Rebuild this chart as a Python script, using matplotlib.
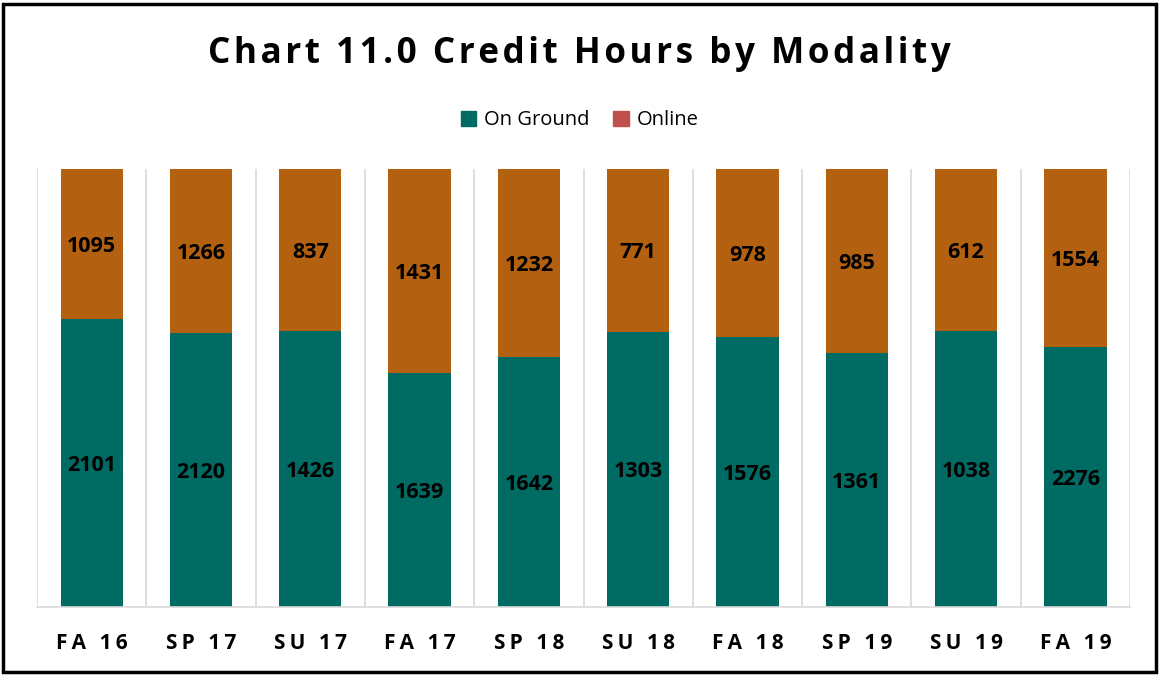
import numpy as np
import matplotlib.pyplot as plt
from matplotlib.patches import Patch, Rectangle

terms = ['FA 16', 'SP 17', 'SU 17', 'FA 17', 'SP 18', 'SU 18', 'FA 18', 'SP 19', 'SU 19', 'FA 19']
on_ground = [2101, 2120, 1426, 1639, 1642, 1303, 1576, 1361, 1038, 2276]
online = [1095, 1266, 837, 1431, 1232, 771, 978, 985, 612, 1554]

teal = '#006B63'
orange = '#B36110'
legend_red = '#C0504D'

def spaced(s, sep='\u2009'):
    return sep.join(s)

plt.rcParams['font.family'] = ['Open Sans', 'DejaVu Sans']

og = np.array(on_ground, dtype=float)
ol = np.array(online, dtype=float)
tot = og + ol
p_og = og / tot
p_ol = ol / tot
x = np.arange(len(terms))

fig = plt.figure(figsize=(11.59, 6.75), dpi=100)
ax = fig.add_axes([0.032, 0.1007, 0.943, 0.649])

ax.bar(x, p_og, width=0.57, color=teal, zorder=2)
ax.bar(x, p_ol, width=0.57, bottom=p_og, color=orange, zorder=2)

for i in range(len(terms)):
    ax.text(x[i], p_og[i] / 2, str(on_ground[i]), ha='center', va='center_baseline',
            fontsize=15.5, fontweight='bold', color='black', zorder=3)
    ax.text(x[i], p_og[i] + p_ol[i] / 2, str(online[i]), ha='center', va='center_baseline',
            fontsize=15.5, fontweight='bold', color='black', zorder=3)

# gridlines between categories
for b in np.arange(-0.5, len(terms) + 0.5, 1):
    ax.axvline(b, color='#D9D9D9', lw=1.2, zorder=1)

ax.set_xlim(-0.5, len(terms) - 0.5)
ax.set_ylim(0, 1)
ax.set_xticks(x)
ax.set_xticklabels([spaced(t) for t in terms], fontsize=15, fontweight='bold')
ax.tick_params(axis='x', length=0, pad=19)
ax.set_yticks([])
for s in ['top', 'right', 'left']:
    ax.spines[s].set_visible(False)
ax.spines['bottom'].set_color('#D9D9D9')
ax.spines['bottom'].set_linewidth(1.2)

fig.text(0.5, 0.92, spaced('Chart 11.0 Credit Hours by Modality', '\u200a'), ha='center', va='center',
         fontsize=25.3, fontweight='bold')

handles = [Patch(color=teal, label='On Ground'), Patch(color=legend_red, label='Online')]
fig.legend(handles=handles, loc='center', bbox_to_anchor=(0.5, 0.822), ncol=2, frameon=False,
           fontsize=14.5, handlelength=0.75, handleheight=0.75, handletextpad=0.4, columnspacing=1.2)

fig.patches.append(Rectangle((0.003, 0.004), 0.994, 0.99, transform=fig.transFigure,
                             fill=False, edgecolor='black', lw=2.5))

fig.savefig('out.png', dpi=100)
